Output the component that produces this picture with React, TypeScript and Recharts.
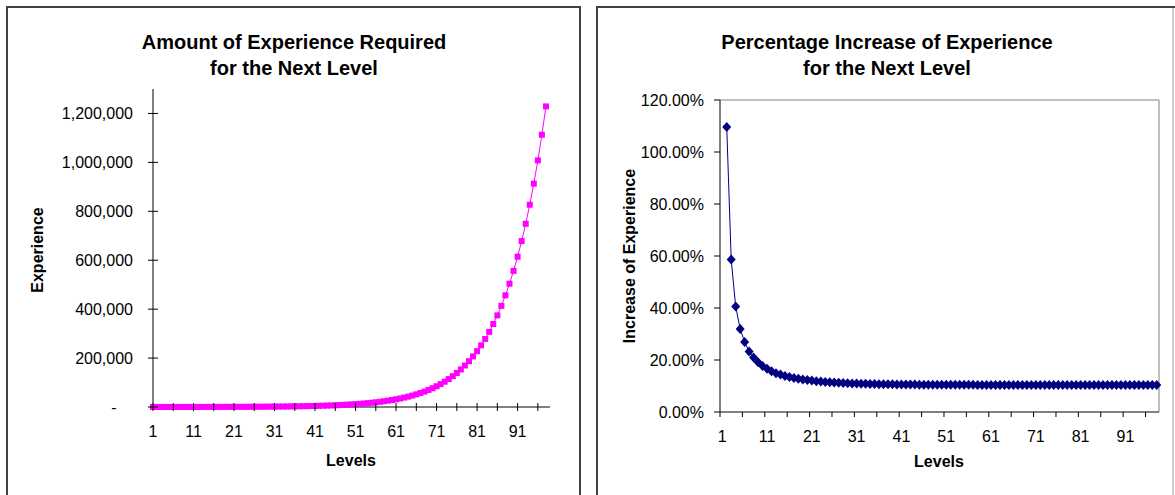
import React from 'react'
import { LineChart, Line, XAxis, YAxis, ReferenceLine } from 'recharts'

// experience needed to reach the next level, levels 1..98 (level 99 has none)
const nextLevelXp = [
  83, 91, 102, 112, 124, 138, 151, 168, 185, 204,
  226, 249, 274, 304, 335, 369, 408, 450, 497, 548,
  606, 667, 737, 814, 898, 990, 1094, 1207, 1332, 1470,
  1623, 1791, 1977, 2182, 2409, 2658, 2935, 3240, 3576, 3947,
  4358, 4810, 5310, 5863, 6471, 7144, 7887, 8707, 9612, 10612,
  11715, 12934, 14278, 15764, 17404, 19214, 21212, 23420, 25856, 28546,
  31516, 34795, 38416, 42413, 46826, 51699, 57079, 63019, 69576, 76818,
  84812, 93638, 103383, 114143, 126022, 139138, 153619, 169608, 187260, 206750,
  228269, 252027, 278259, 307221, 339198, 374502, 413482, 456519, 504037, 556499,
  614422, 678376, 748985, 826944, 913019, 1008052, 1112977, 1228825,
]

// percentage increase for the next level, levels 1..98 (level 1 has no value)
const pctIncrease: (number | null)[] = [
  null, 109.64, 58.62, 40.58, 31.96, 26.95, 23.23, 20.97, 19.09, 17.68,
  16.64, 15.72, 14.95, 14.43, 13.89, 13.44, 13.1, 12.77, 12.51, 12.26,
  12.08, 11.86, 11.72, 11.58, 11.45, 11.33, 11.24, 11.15, 11.07, 11.0,
  10.94, 10.88, 10.83, 10.79, 10.75, 10.71, 10.68, 10.66, 10.63, 10.6,
  10.59, 10.56, 10.55, 10.54, 10.52, 10.51, 10.5, 10.49, 10.48, 10.47,
  10.47, 10.46, 10.45, 10.45, 10.44, 10.44, 10.44, 10.43, 10.43, 10.43,
  10.43, 10.42, 10.42, 10.42, 10.42, 10.42, 10.42, 10.42, 10.41, 10.41,
  10.41, 10.41, 10.41, 10.41, 10.41, 10.41, 10.41, 10.41, 10.41, 10.41,
  10.41, 10.41, 10.41, 10.41, 10.41, 10.41, 10.41, 10.41, 10.41, 10.41,
  10.41, 10.41, 10.41, 10.41, 10.41, 10.41, 10.41, 10.41,
]

const xpTicks = [0, 200000, 400000, 600000, 800000, 1000000, 1200000]
const pctTicks = [0, 20, 40, 60, 80, 100, 120]
const leftLevelTicks = [1, 6, 11, 16, 21, 26, 31, 36, 41, 46, 51, 56, 61, 66, 71, 76, 81, 86, 91, 96]
const rightLevelTicks = [
  0.5, 1, 5.5, 10.5, 11, 15.5, 20.5, 21, 25.5, 30.5, 31, 35.5, 40.5, 41, 45.5,
  50.5, 51, 55.5, 60.5, 61, 65.5, 70.5, 71, 75.5, 80.5, 81, 85.5, 90.5, 91, 95.5,
]

const leftRows = [...nextLevelXp, null].map((v, i) => ({ level: i + 1, exp: v }))
const rightRows = pctIncrease.map((v, i) => ({ level: i + 1, pct: v }))

const FONT = 'Arial, "Liberation Sans", sans-serif'
const TICK_FS = 16

const fmtXp = (v: number) => v.toLocaleString('en-US')

const LeftXTick = (p: any) => {
  const { x, y, payload } = p
  const v = payload.value
  return (
    <g>
      <line x1={x} x2={x} y1={y - 4} y2={y + 4} stroke="#000" />
      {(v - 1) % 10 === 0 && (
        <text x={x} y={y + 24} textAnchor="middle" dominantBaseline="central" fontSize={TICK_FS} fontFamily={FONT} fill="#000">
          {v}
        </text>
      )}
    </g>
  )
}

const LeftYTick = (p: any) => {
  const { x, y, payload } = p
  const v = payload.value
  return (
    <g>
      <line x1={x - 5} x2={x + 5} y1={y} y2={y} stroke="#000" />
      {v === 0 ? (
        <text x={x - 39} y={y} textAnchor="middle" dominantBaseline="central" fontSize={TICK_FS} fontFamily={FONT} fill="#000">-</text>
      ) : (
        <text x={x - 20} y={y} textAnchor="end" dominantBaseline="central" fontSize={TICK_FS} fontFamily={FONT} fill="#000">
          {fmtXp(v)}
        </text>
      )}
    </g>
  )
}

const RightXTick = (p: any) => {
  const { x, y, payload } = p
  const v = payload.value
  if (v % 1 !== 0) return <line x1={x} x2={x} y1={y} y2={y + 5} stroke="#000" />
  return (
    <text x={x} y={y + 24} textAnchor="middle" dominantBaseline="central" fontSize={TICK_FS} fontFamily={FONT} fill="#000">
      {v}
    </text>
  )
}

const RightYTick = (p: any) => {
  const { x, y, payload } = p
  return (
    <g>
      <line x1={x - 6} x2={x} y1={y} y2={y} stroke="#000" />
      <text x={x - 16} y={y} textAnchor="end" dominantBaseline="central" fontSize={TICK_FS} fontFamily={FONT} fill="#000">
        {payload.value.toFixed(2)}%
      </text>
    </g>
  )
}

const SquareDot = (p: any) => {
  const { cx, cy, index } = p
  if (cx == null || cy == null) return <g key={index} />
  return <rect key={index} x={cx - 3} y={cy - 3} width={6} height={6} fill="#FF00FF" />
}

const DiamondDot = (p: any) => {
  const { cx, cy, index } = p
  if (cx == null || cy == null) return <g key={index} />
  return <path key={index} d={`M${cx},${cy - 5}L${cx + 4.5},${cy}L${cx},${cy + 5}L${cx - 4.5},${cy}Z`} fill="#000080" />
}

const abs = (x: number, y: number): React.CSSProperties => ({ position: 'absolute', left: x, top: y })

const Centered = ({ x, y, size, children, rotate }: any) => (
  <div
    style={{
      position: 'absolute', left: x, top: y, whiteSpace: 'nowrap',
      transform: `translate(-50%, -50%)${rotate ? ' rotate(-90deg)' : ''}`,
      fontFamily: FONT, fontWeight: 'bold', fontSize: size, color: '#000', lineHeight: 1,
    }}
  >
    {children}
  </div>
)

export default function App() {
  return (
    <div style={{ position: 'fixed', left: 0, top: 0, width: 1175, height: 495, background: '#fff', overflow: 'hidden' }}>
      {/* chart frames */}
      <div style={{ ...abs(6, 6), width: 571, height: 600, border: '2px solid #404040' }} />
      <div style={{ ...abs(596, 6), width: 700, height: 600, border: '2px solid #404040' }} />
      <div style={{ ...abs(1172, 8), width: 2, height: 490, background: '#cfcfcf' }} />

      {/* left chart */}
      <div style={abs(0, 0)}>
        <LineChart width={590} height={495} data={leftRows} margin={{ top: 89, right: 40, bottom: 0, left: 0 }}>
          <XAxis
            dataKey="level" type="number" domain={[1, 99]} ticks={leftLevelTicks} interval={0}
            height={88} tickSize={0} tickMargin={0} tick={LeftXTick} tickLine={false}
            axisLine={{ stroke: '#000' }}
          />
          <YAxis
            type="number" domain={[0, 1300000]} ticks={xpTicks} interval={0} width={153}
            tickSize={0} tickMargin={0} tick={LeftYTick} tickLine={false} axisLine={{ stroke: '#000' }}
          />
          <Line type="linear" dataKey="exp" stroke="#FF00FF" strokeWidth={1} dot={SquareDot} isAnimationActive={false} />
        </LineChart>
      </div>
      <Centered x={294} y={42} size={20}>Amount of Experience Required</Centered>
      <Centered x={294} y={68} size={20}>for the Next Level</Centered>
      <Centered x={38} y={250} size={16} rotate>Experience</Centered>
      <Centered x={351} y={461} size={16}>Levels</Centered>

      {/* right chart */}
      <div style={abs(590, 0)}>
        <LineChart width={585} height={495} data={rightRows} margin={{ top: 100, right: 16, bottom: 0, left: 0 }}>
          <XAxis
            dataKey="level" type="number" domain={[0.5, 98.5]} ticks={rightLevelTicks} interval={0}
            height={83} tickSize={0} tickMargin={0} tick={RightXTick} tickLine={false}
            axisLine={{ stroke: '#000' }}
          />
          <YAxis
            type="number" domain={[0, 120]} ticks={pctTicks} interval={0} width={130}
            tickSize={0} tickMargin={0} tick={RightYTick} tickLine={false} axisLine={{ stroke: '#000' }}
          />
          <ReferenceLine y={120} stroke="#808080" />
          <ReferenceLine x={98.5} stroke="#808080" />
          <Line type="linear" dataKey="pct" stroke="#000080" strokeWidth={1} dot={DiamondDot} isAnimationActive={false} />
        </LineChart>
      </div>
      <Centered x={887} y={42} size={20}>Percentage Increase of Experience</Centered>
      <Centered x={887} y={68} size={20}>for the Next Level</Centered>
      <Centered x={630} y={256} size={16} rotate>Increase of Experience</Centered>
      <Centered x={939} y={462} size={16}>Levels</Centered>
    </div>
  )
}
